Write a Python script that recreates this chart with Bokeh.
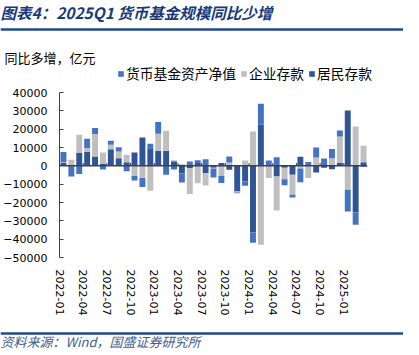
import numpy as np
from bokeh.plotting import figure
from bokeh.layouts import column, row
from bokeh.models import Label, Legend, LegendItem, Span, FixedTicker, Range1d
from bokeh.embed import file_html
from bokeh.resources import INLINE

months = ["2022-01", "2022-02", "2022-03", "2022-04", "2022-05", "2022-06", "2022-07", "2022-08",
          "2022-09", "2022-10", "2022-11", "2022-12", "2023-01", "2023-02", "2023-03", "2023-04",
          "2023-05", "2023-06", "2023-07", "2023-08", "2023-09", "2023-10", "2023-11", "2023-12",
          "2024-01", "2024-02", "2024-03", "2024-04", "2024-05", "2024-06", "2024-07", "2024-08",
          "2024-09", "2024-10", "2024-11", "2024-12", "2025-01", "2025-02", "2025-03"]

mmf = [5500, -5300, -4400, 5100, 3300, -2000, 2200, 2400, -3000, -2500, -4900, 2400,
       6400, -4900, -2000, -5100, 2400, 1500, 3600, -4900, -3800, 3300, -500, -2200,
       -5500, 11500, 2400, 4700, -3300, -1500, -7500, 1800, 5500, 3500, 5000, 3300,
       -11800, -6700, -500]
corp = [500, 3300, 10000, 2200, 12200, 6200, 2400, 3600, 4000, -5500, -6700, -13600,
        9300, 10900, 500, 800, -14000, -9500, -6700, -500, -5500, 1800, -500, 2900,
        18700, -43100, -6700, -18500, -6300, -10900, -1500, -6700, 4500, 500, 4200, 14500,
        -13100, 21500, 9000]
house = [1500, -500, 7000, 7500, 5100, 1100, 9100, 4200, 2000, 7300, 15500, 9600,
         8200, 8200, 2500, -4000, -1300, 1500, -4000, -1000, 1500, -2200, -14000, -8600,
         -36400, 22400, 500, -5800, -1000, -4900, 5000, 300, -3600, -1000, -1800, 1500,
         30200, -25500, 2000]

y_ticks = [40000, 30000, 20000, 10000, 0, -10000, -20000, -30000, -40000, -50000]
x_label_months = ["2022-01", "2022-04", "2022-07", "2022-10", "2023-01", "2023-04", "2023-07",
                  "2023-10", "2024-01", "2024-04", "2024-07", "2024-10", "2025-01"]

W = 403
CJK = "Noto Sans CJK SC"
NAVY = "#1F4A8A"
colors = {"货币基金资产净值": "#4472C4", "企业存款": "#BFBFBF", "居民存款": "#2F5597"}

# ---------------- header ----------------
HH = 88
head = figure(width=W, height=HH, output_backend="svg", toolbar_location=None,
              x_range=Range1d(0, W), y_range=Range1d(HH, 0), min_border=0,
              min_border_left=0, min_border_right=0, min_border_top=0, min_border_bottom=0,
              x_axis_location=None, y_axis_location=None)
head.outline_line_color = None
head.grid.visible = False
head.add_layout(Label(x=0, y=11, text="图表4：2025Q1 货币基金规模同比少增", text_font=CJK,
                      text_font_size="15.5px", text_font_style="bold italic", text_color="#173A7A",
                      text_baseline="middle", text_align="left"))
head.add_layout(Span(location=29, dimension="width", line_color=NAVY, line_width=2.5))
head.add_layout(Label(x=4, y=57, text="同比多增，亿元", text_font=CJK, text_font_size="13px",
                      text_color="#000000", text_baseline="middle", text_align="left"))
proxies = {}
for name in ["货币基金资产净值", "企业存款", "居民存款"]:
    proxies[name] = head.vbar(x=[0], top=[0], bottom=[0], width=0.75,
                              fill_color=colors[name], line_color=None)
legend = Legend(items=[LegendItem(label=nm, renderers=[proxies[nm]]) for nm in proxies],
                orientation="horizontal", location=(117, 5),
                glyph_width=7, glyph_height=7, label_standoff=2, spacing=4,
                padding=0, margin=0, border_line_color=None, background_fill_alpha=0,
                label_text_font=CJK, label_text_font_size="13.75px",
                label_text_color="#000000", label_height=14)
head.add_layout(legend, "center")

# ---------------- main chart ----------------
H = 234
p = figure(width=W, height=H, output_backend="svg", toolbar_location=None,
           x_range=Range1d(-0.5, len(months) - 0.5), y_range=Range1d(-50000, 40000),
           min_border_left=53, min_border_right=36, min_border_top=4, min_border_bottom=65)
p.outline_line_color = None
p.grid.visible = False

n = len(months)
x = np.arange(n)
series = [("居民存款", house), ("企业存款", corp), ("货币基金资产净值", mmf)]
pos = np.zeros(n)
neg = np.zeros(n)
for name, vals in series:
    v = np.array(vals, dtype=float)
    bottom = np.where(v >= 0, pos, neg)
    top = bottom + v
    pos = np.where(v >= 0, top, pos)
    neg = np.where(v < 0, top, neg)
    p.vbar(x=x, bottom=bottom, top=top, width=0.75, fill_color=colors[name], line_color=None)

p.add_layout(Span(location=0, dimension="width", line_color="#404040", line_width=1.5))
tick_x = [months.index(m) - 0.5 for m in x_label_months]
p.segment(x0=tick_x, x1=tick_x, y0=[0] * len(tick_x), y1=[1500] * len(tick_x),
          line_color="#303030", line_width=1)

ya = p.yaxis[0]
ya.ticker = FixedTicker(ticks=y_ticks)
ya.axis_line_color = "#404040"
ya.major_tick_line_color = "#404040"
ya.major_tick_in = 4
ya.major_tick_out = 0
ya.minor_tick_line_color = None
ya.major_label_standoff = 12
ya.major_label_text_font = "DejaVu Sans"
ya.major_label_text_font_size = "11px"
ya.major_label_text_color = "#000000"

xa = p.xaxis[0]
xa.ticker = FixedTicker(ticks=tick_x)
xa.major_label_overrides = {t: m for t, m in zip(tick_x, x_label_months)}
xa.axis_line_color = None
xa.major_tick_line_color = None
xa.minor_tick_line_color = None
xa.major_label_orientation = -np.pi / 2
xa.major_label_standoff = 6
xa.major_label_text_font = "DejaVu Sans"
xa.major_label_text_font_size = "11px"
xa.major_label_text_color = "#000000"

# ---------------- footer ----------------
HF = 28
foot = figure(width=W, height=HF, output_backend="svg", toolbar_location=None,
              x_range=Range1d(0, W), y_range=Range1d(HF, 0), min_border=0,
              min_border_left=0, min_border_right=0, min_border_top=0, min_border_bottom=0,
              x_axis_location=None, y_axis_location=None)
foot.outline_line_color = None
foot.grid.visible = False
foot.add_layout(Span(location=11, dimension="width", line_color=NAVY, line_width=2.5))
foot.add_layout(Label(x=0, y=19, text="资料来源：Wind，国盛证券研究所", text_font=CJK,
                      text_font_size="13px", text_font_style="italic", text_color="#3F5E8F",
                      text_baseline="middle", text_align="left"))

layout = column(row(head), row(p), row(foot), spacing=0)
open("out.html", "w").write(file_html(layout, INLINE))
